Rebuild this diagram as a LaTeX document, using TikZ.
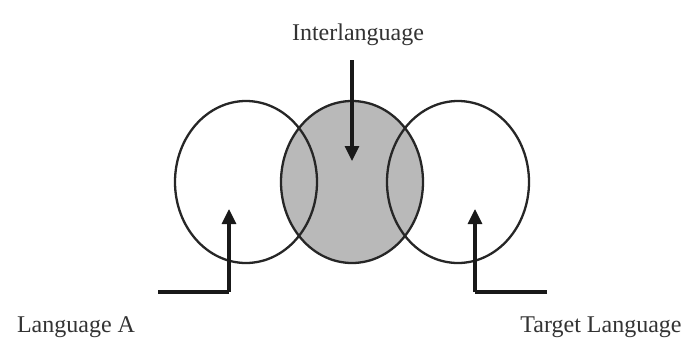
\documentclass[tikz,border=0pt]{standalone}
\usepackage{fontspec}
\setmainfont{Liberation Serif}
\usetikzlibrary{shapes.geometric,arrows.meta}
\begin{document}
\begin{tikzpicture}[x=1pt,y=-1pt,
  circ/.style={ellipse,draw=black!85,line width=2.3pt,minimum width=142pt,minimum height=162pt,inner sep=0pt},
  lbl/.style={font=\fontsize{24}{28}\selectfont,text=black!80,inner sep=0pt},
  arr/.style={line width=3.2pt,draw=black!90,-{Triangle[length=15pt,width=14pt]}},
  lead/.style={line width=3.2pt,draw=black!90}]
\useasboundingbox (0,0) rectangle (688,343);
\fill[white] (0,0) rectangle (688,343);
\fill[gray!55!white] (352,182) ellipse [x radius=71, y radius=81];
\node[circ] (mid) at (352,182) {};
\node[circ] (left) at (246,182) {};
\node[circ] (right) at (458,182) {};
\node[lbl] (inter) at (358,35) {Interlanguage};
\node[lbl] (langA) at (76,327) {Language A};
\node[lbl] (target) at (601,327) {Target Language};
\coordinate (it) at (352,60);
\coordinate (ih) at (352,161);
\draw[arr] (it) -- (ih);
\coordinate (l1) at (158,292);
\coordinate (l2) at (229,292);
\coordinate (l3) at (229,209);
\draw[lead] (l1) -- (l2);
\draw[arr] (l2) -- (l3);
\coordinate (r1) at (547,292);
\coordinate (r2) at (475,292);
\coordinate (r3) at (475,209);
\draw[lead] (r1) -- (r2);
\draw[arr] (r2) -- (r3);
\end{tikzpicture}
\end{document}
